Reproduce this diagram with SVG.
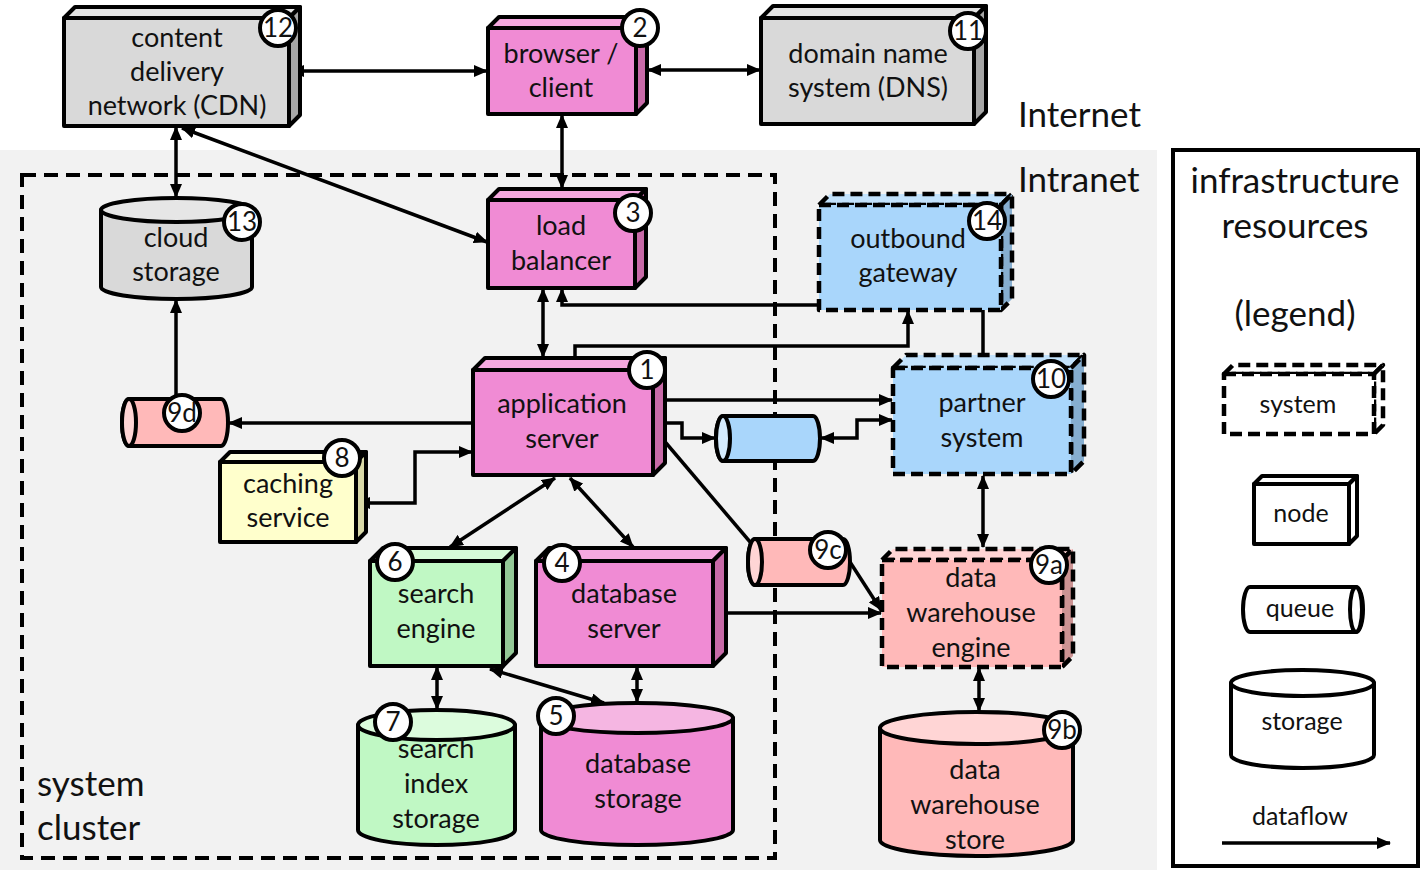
<svg xmlns="http://www.w3.org/2000/svg" width="1425" height="876" viewBox="0 0 1425 876">
<defs>
<marker id="ah" viewBox="0 0 14 12" refX="13" refY="6" markerWidth="14" markerHeight="12" markerUnits="userSpaceOnUse" orient="auto-start-reverse"><path d="M0,0 L14,6 L0,12 z" fill="#000"/></marker>
<style>
.t{font-family:Lato,"Open Sans",sans-serif;font-size:27px;fill:#111;text-anchor:middle}
.big{font-family:Lato,"Open Sans",sans-serif;font-size:35px;fill:#111}
.lg{font-family:Lato,"Open Sans",sans-serif;font-size:35px;fill:#111;text-anchor:middle}
.ls{font-family:Lato,"Open Sans",sans-serif;font-size:25px;fill:#111;text-anchor:middle}
.bt{font-family:Lato,"Open Sans",sans-serif;font-size:26px;fill:#111;text-anchor:middle}
.s{stroke:#000;stroke-width:4;stroke-linejoin:round}
.d{stroke:#000;stroke-width:4.5;stroke-dasharray:12 6;stroke-linejoin:round}
.c{fill:none;stroke:#000;stroke-width:3.5}
.b{fill:#fff;stroke:#000;stroke-width:4}
</style>
</defs>
<rect x="0" y="0" width="1425" height="876" fill="#fff"/>
<rect x="0" y="150" width="1157" height="720" fill="#f2f2f2"/>
<rect x="22" y="175" width="753" height="683" fill="none" stroke="#000" stroke-width="4" stroke-dasharray="14 8"/>
<text class="big" x="1018" y="127">Internet</text>
<text class="big" x="1018" y="192">Intranet</text>
<text class="big" x="37" y="796">system</text>
<text class="big" x="37" y="840">cluster</text>

<g id="connectors">
<path class="c" d="M291,71 L487,71" marker-start="url(#ah)" marker-end="url(#ah)"/>
<path class="c" d="M648,70 L760,70" marker-start="url(#ah)" marker-end="url(#ah)"/>
<path class="c" d="M176,127 L176,197" marker-start="url(#ah)" marker-end="url(#ah)"/>
<path class="c" d="M182,128 L487,242" marker-start="url(#ah)" marker-end="url(#ah)"/>
<path class="c" d="M562,115 L562,188" marker-start="url(#ah)" marker-end="url(#ah)"/>
<path class="c" d="M543,289 L543,357" marker-start="url(#ah)" marker-end="url(#ah)"/>
<path class="c" d="M983,355 L983,305 L562,305 L562,289" marker-end="url(#ah)"/>
<path class="c" d="M575,357 L575,346 L908,346 L908,311" marker-end="url(#ah)"/>
<path class="c" d="M472,423 L229,423" marker-end="url(#ah)"/>
<path class="c" d="M176,398 L176,300" marker-end="url(#ah)"/>
<path class="c" d="M472,452 L415,452 L415,503 L357,503" marker-start="url(#ah)" marker-end="url(#ah)"/>
<path class="c" d="M664,400 L892,400" marker-end="url(#ah)"/>
<path class="c" d="M654,423 L682,423 L682,438 L715,438" marker-start="url(#ah)" marker-end="url(#ah)"/>
<path class="c" d="M821,438 L857,438 L857,420 L892,420" marker-start="url(#ah)" marker-end="url(#ah)"/>
<path class="c" d="M655,430 L762,556" marker-end="url(#ah)"/>
<path class="c" d="M850,562 L881,610" marker-end="url(#ah)"/>
<path class="c" d="M726,613 L881,613" marker-end="url(#ah)"/>
<path class="c" d="M983,476 L983,547" marker-start="url(#ah)" marker-end="url(#ah)"/>
<path class="c" d="M979,668 L979,711" marker-start="url(#ah)" marker-end="url(#ah)"/>
<path class="c" d="M555,478 L450,547" marker-start="url(#ah)" marker-end="url(#ah)"/>
<path class="c" d="M570,478 L633,547" marker-start="url(#ah)" marker-end="url(#ah)"/>
<path class="c" d="M437,667 L437,709" marker-start="url(#ah)" marker-end="url(#ah)"/>
<path class="c" d="M490,669 L604,703" marker-start="url(#ah)" marker-end="url(#ah)"/>
<path class="c" d="M637,667 L637,702" marker-start="url(#ah)" marker-end="url(#ah)"/>
</g>

<!-- CDN -->
<g id="n12">
<polygon class="s" fill="#e3e3e3" points="64,18 75,7 300,7 289,18"/>
<polygon class="s" fill="#a6a6a6" points="289,18 300,7 300,115 289,126"/>
<rect class="s" fill="#d9d9d9" x="64" y="18" width="225" height="108"/>
<text class="t" x="177" y="47">content</text>
<text class="t" x="177" y="81">delivery</text>
<text class="t" x="177" y="115">network (CDN)</text>
<circle class="b" cx="278" cy="28" r="18"/><text class="bt" x="278" y="37">12</text>
</g>
<!-- browser -->
<g id="n2">
<polygon class="s" fill="#f5a8df" points="488,28 499,17 647,17 636,28"/>
<polygon class="s" fill="#c86aa8" points="636,28 647,17 647,103 636,114"/>
<rect class="s" fill="#f08bd4" x="488" y="28" width="148" height="86"/>
<text class="t" x="561" y="63">browser /</text>
<text class="t" x="561" y="97">client</text>
<circle class="b" cx="640" cy="28" r="18"/><text class="bt" x="640" y="37">2</text>
</g>
<!-- DNS -->
<g id="n11">
<polygon class="s" fill="#e3e3e3" points="761,18 773,6 986,6 974,18"/>
<polygon class="s" fill="#a6a6a6" points="974,18 986,6 986,112 974,124"/>
<rect class="s" fill="#d9d9d9" x="761" y="18" width="213" height="106"/>
<text class="t" x="868" y="63">domain name</text>
<text class="t" x="868" y="97">system (DNS)</text>
<circle class="b" cx="968" cy="31" r="18"/><text class="bt" x="968" y="40">11</text>
</g>
<!-- cloud storage -->
<g id="n13">
<path class="s" fill="#d9d9d9" d="M101,210 L101,287 A75.5,12 0 0 0 252,287 L252,210 Z"/>
<ellipse class="s" fill="#e6e6e6" cx="176.5" cy="210" rx="75.5" ry="12"/>
<text class="t" x="176" y="247">cloud</text>
<text class="t" x="176" y="281">storage</text>
<circle class="b" cx="242" cy="222" r="18"/><text class="bt" x="242" y="231">13</text>
</g>
<!-- load balancer -->
<g id="n3">
<polygon class="s" fill="#f5a8df" points="488,200 499,189 646,189 635,200"/>
<polygon class="s" fill="#c86aa8" points="635,200 646,189 646,277 635,288"/>
<rect class="s" fill="#f08bd4" x="488" y="200" width="147" height="88"/>
<text class="t" x="561" y="235">load</text>
<text class="t" x="561" y="270">balancer</text>
<circle class="b" cx="633" cy="213" r="18"/><text class="bt" x="633" y="222">3</text>
</g>
<!-- outbound gateway -->
<g id="n14">
<polygon class="d" fill="#c2e2fc" points="819,205 830,194 1012,194 1001,205"/>
<polygon class="d" fill="#86aed0" points="1001,205 1012,194 1012,299 1001,310"/>
<rect class="d" fill="#a9d6fb" x="819" y="205" width="182" height="105"/>
<text class="t" x="908" y="248">outbound</text>
<text class="t" x="908" y="282">gateway</text>
<circle class="b" cx="987" cy="221" r="18"/><text class="bt" x="987" y="230">14</text>
</g>
<!-- 9d queue -->
<g id="n9d">
<path class="s" fill="#ffb9b9" d="M129,399 L221,399 A7,23.5 0 0 1 221,446 L129,446 A7,23.5 0 0 1 129,399 Z"/>
<ellipse class="s" fill="#ffd5d5" cx="129" cy="422.5" rx="7" ry="23.5"/>
<circle class="b" cx="182" cy="413" r="18"/><text class="bt" x="182" y="422">9d</text>
</g>
<!-- application server -->
<g id="n1">
<polygon class="s" fill="#f5a8df" points="473,370 485,358 665,358 653,370"/>
<polygon class="s" fill="#c86aa8" points="653,370 665,358 665,463 653,475"/>
<rect class="s" fill="#f08bd4" x="473" y="370" width="180" height="105"/>
<text class="t" x="562" y="413">application</text>
<text class="t" x="562" y="448">server</text>
<circle class="b" cx="647" cy="370" r="18"/><text class="bt" x="647" y="379">1</text>
</g>
<!-- caching -->
<g id="n8">
<polygon class="s" fill="#ffffe0" points="220,462 230,452 366,452 356,462"/>
<polygon class="s" fill="#d9d9a8" points="356,462 366,452 366,532 356,542"/>
<rect class="s" fill="#ffffcc" x="220" y="462" width="136" height="80"/>
<text class="t" x="288" y="493">caching</text>
<text class="t" x="288" y="527">service</text>
<circle class="b" cx="342" cy="458" r="18"/><text class="bt" x="342" y="467">8</text>
</g>
<!-- blue queue -->
<g id="nq">
<path class="s" fill="#a9d6fb" d="M723,416 L813,416 A7,22.5 0 0 1 813,461 L723,461 A7,22.5 0 0 1 723,416 Z"/>
<ellipse class="s" fill="#d4ebfd" cx="723" cy="438.5" rx="7" ry="22.5"/>
</g>
<!-- partner system -->
<g id="n10">
<polygon class="d" fill="#c2e2fc" points="893,368 906,355 1084,355 1071,368"/>
<polygon class="d" fill="#86aed0" points="1071,368 1084,355 1084,461 1071,474"/>
<rect class="d" fill="#a9d6fb" x="893" y="368" width="178" height="106"/>
<text class="t" x="982" y="412">partner</text>
<text class="t" x="982" y="447">system</text>
<circle class="b" cx="1051" cy="379" r="18"/><text class="bt" x="1051" y="388">10</text>
</g>
<!-- 9c queue -->
<g id="n9c">
<path class="s" fill="#ffb9b9" d="M755,539 L843,539 A7,23 0 0 1 843,585 L755,585 A7,23 0 0 1 755,539 Z"/>
<ellipse class="s" fill="#ffd5d5" cx="755" cy="562" rx="7" ry="23"/>
<circle class="b" cx="828" cy="550" r="18"/><text class="bt" x="828" y="559">9c</text>
</g>
<!-- search engine -->
<g id="n6">
<polygon class="s" fill="#d6fbd8" points="370,561 383,548 516,548 503,561"/>
<polygon class="s" fill="#93c896" points="503,561 516,548 516,653 503,666"/>
<rect class="s" fill="#c0f8c4" x="370" y="561" width="133" height="105"/>
<text class="t" x="436" y="603">search</text>
<text class="t" x="436" y="638">engine</text>
<circle class="b" cx="395" cy="562" r="18"/><text class="bt" x="395" y="571">6</text>
</g>
<!-- database server -->
<g id="n4">
<polygon class="s" fill="#f5a8df" points="536,561 549,548 726,548 713,561"/>
<polygon class="s" fill="#c86aa8" points="713,561 726,548 726,653 713,666"/>
<rect class="s" fill="#f08bd4" x="536" y="561" width="177" height="105"/>
<text class="t" x="624" y="603">database</text>
<text class="t" x="624" y="638">server</text>
<circle class="b" cx="562" cy="563" r="18"/><text class="bt" x="562" y="572">4</text>
</g>
<!-- DW engine -->
<g id="n9a">
<polygon class="d" fill="#ffd5d5" points="882,560 893,549 1073,549 1062,560"/>
<polygon class="d" fill="#cc9393" points="1062,560 1073,549 1073,656 1062,667"/>
<rect class="d" fill="#ffb9b9" x="882" y="560" width="180" height="107"/>
<text class="t" x="971" y="587">data</text>
<text class="t" x="971" y="622">warehouse</text>
<text class="t" x="971" y="657">engine</text>
<circle class="b" cx="1049" cy="565" r="18"/><text class="bt" x="1049" y="574">9a</text>
</g>
<!-- search index storage -->
<g id="n7">
<path class="s" fill="#c0f8c4" d="M358,725 L358,830 A78.5,15 0 0 0 515,830 L515,725 Z"/>
<ellipse class="s" fill="#dcfcdd" cx="436.5" cy="725" rx="78.5" ry="15"/>
<text class="t" x="436" y="758">search</text>
<text class="t" x="436" y="793">index</text>
<text class="t" x="436" y="828">storage</text>
<circle class="b" cx="393" cy="722" r="18"/><text class="bt" x="393" y="731">7</text>
</g>
<!-- database storage -->
<g id="n5">
<path class="s" fill="#f08bd4" d="M541,718 L541,830 A96,15 0 0 0 733,830 L733,718 Z"/>
<ellipse class="s" fill="#f5b6e2" cx="637" cy="718" rx="96" ry="15"/>
<text class="t" x="638" y="773">database</text>
<text class="t" x="638" y="808">storage</text>
<circle class="b" cx="556" cy="716" r="18"/><text class="bt" x="556" y="725">5</text>
</g>
<!-- DW store -->
<g id="n9b">
<path class="s" fill="#ffb9b9" d="M880,728 L880,840 A96.5,16 0 0 0 1073,840 L1073,728 Z"/>
<ellipse class="s" fill="#ffd5d5" cx="976.5" cy="728" rx="96.5" ry="16"/>
<text class="t" x="975" y="779">data</text>
<text class="t" x="975" y="814">warehouse</text>
<text class="t" x="975" y="849">store</text>
<circle class="b" cx="1062" cy="730" r="18"/><text class="bt" x="1062" y="739">9b</text>
</g>

<!-- legend -->
<g id="legend">
<rect x="1173" y="150" width="245" height="716" fill="#fff" stroke="#000" stroke-width="4"/>
<text class="lg" x="1295" y="193">infrastructure</text>
<text class="lg" x="1295" y="238">resources</text>
<text class="lg" x="1295" y="326">(legend)</text>
<polygon class="d" fill="#fff" points="1224,374 1233,365 1383,365 1374,374"/>
<polygon class="d" fill="#fff" points="1374,374 1383,365 1383,425 1374,434"/>
<rect class="d" fill="#fff" x="1224" y="374" width="150" height="60"/>
<text class="ls" x="1298" y="413">system</text>
<polygon class="s" fill="#fff" points="1254,484 1262,476 1357,476 1349,484"/>
<polygon class="s" fill="#fff" points="1349,484 1357,476 1357,536 1349,544"/>
<rect class="s" fill="#fff" x="1254" y="484" width="95" height="60"/>
<text class="ls" x="1301" y="522">node</text>
<path class="s" fill="#fff" d="M1250,587 L1356,587 A7,22.5 0 0 1 1356,632 L1250,632 A7,22.5 0 0 1 1250,587 Z"/>
<ellipse class="s" fill="#fff" cx="1356" cy="609.5" rx="6" ry="22.5"/>
<text class="ls" x="1300" y="617">queue</text>
<path class="s" fill="#fff" d="M1231,683 L1231,755 A71.5,13 0 0 0 1374,755 L1374,683 Z"/>
<ellipse class="s" fill="#fff" cx="1302.5" cy="683" rx="71.5" ry="13"/>
<text class="ls" x="1302" y="730">storage</text>
<text class="ls" x="1300" y="825">dataflow</text>
<path class="c" d="M1222,843 L1390,843" marker-end="url(#ah)"/>
</g>
</svg>
